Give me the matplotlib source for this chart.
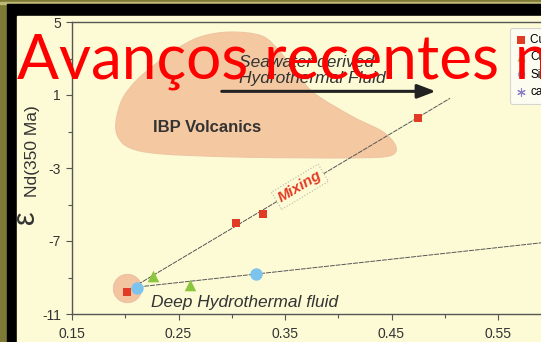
import numpy as np
import matplotlib.pyplot as plt
from matplotlib.path import Path
from matplotlib.patches import PathPatch, Rectangle

plt.rcParams['font.family'] = ['Liberation Sans', 'DejaVu Sans']

W, H = 541, 342
olive = '#7c7a34'
cream = '#fdfbd6'
peach = '#f4c8a0'

# Nd isotope data (x = 1/Nd-type ratio, y = eNd at 350 Ma)
cu_x = [0.2013, 0.304, 0.329, 0.4746]
cu_y = [-9.78, -6.0, -5.5, -0.27]
chl_x = [0.226, 0.2608]
chl_y = [-8.94, -9.39]
sid_x = [0.2107, 0.3228]
sid_y = [-9.58, -8.81]
cal_x = []
cal_y = []
series_labels = ['Cu-rich ore', 'Chlorite', 'Siderite', 'calcite']

# mixing lines between end members
upper_x = [0.207, 0.505]
upper_y = [-9.55, 0.82]
lower_x = [0.207, 0.65]
lower_y = [-9.55, -6.72]

deep_x = [0.2013]
deep_y = [-9.6]

# IBP volcanics field outline
ibp_x = [0.1913, 0.1969, 0.2092, 0.2251, 0.2467, 0.2702, 0.2984, 0.3284, 0.3453,
         0.3622, 0.3782, 0.4138, 0.4420, 0.4542, 0.4486, 0.4204, 0.3641, 0.2984,
         0.2326, 0.2045, 0.1932]
ibp_y = [-0.47, 0.73, 1.72, 2.54, 3.47, 4.18, 4.45, 4.23, 3.36,
         2.10, 1.06, -0.20, -1.02, -1.84, -2.33, -2.44, -2.44, -2.39,
         -2.22, -1.90, -1.29]

xticks = [0.15, 0.25, 0.35, 0.45, 0.55, 0.65]
xminor = [0.20, 0.30, 0.40, 0.50, 0.60]
yticks = [5, 1, -3, -7, -11]
yminor = [3, -1, -5, -9]


def smooth_closed(xs, ys):
    pts = np.column_stack([xs, ys])
    n = len(pts)
    verts = [pts[0]]
    codes = [Path.MOVETO]
    for i in range(n):
        p0, p1, p2, p3 = pts[i - 1], pts[i], pts[(i + 1) % n], pts[(i + 2) % n]
        verts += [p1 + (p2 - p0) / 6, p2 - (p3 - p1) / 6, p2]
        codes += [Path.CURVE4] * 3
    return Path(verts, codes)


fig = plt.figure(figsize=(W / 100, H / 100), dpi=100, facecolor=olive)

# slide frame
fig.patches.append(Rectangle((0, 1 - 3.5 / H), 1, 1.3 / H, transform=fig.transFigure,
                             color='#bdb873', zorder=-3))
fig.patches.append(Rectangle((7 / W, 0), 1, 1 - 3.8 / H, transform=fig.transFigure,
                             color='black', zorder=-2))
fig.patches.append(Rectangle((17 / W, 0), 1, 1 - 16 / H, transform=fig.transFigure,
                             color=cream, zorder=-1))

ax = fig.add_axes([72 / W, 28 / H, 532.5 / W, 292 / H])
ax.set_facecolor(cream)
ax.set_xlim(0.15, 0.65)
ax.set_ylim(-11, 5)

ax.add_patch(PathPatch(smooth_closed(ibp_x, ibp_y), fc=peach, ec='#efc5a2', lw=0.8, zorder=1))
ax.text(0.2258, -1.0, 'IBP Volcanics', fontsize=12, fontweight='bold', color='#333333',
        ha='left', va='baseline', zorder=2)

ax.text(0.3070, 1.66, 'Seawater derived\nHydrothermal Fluid', fontsize=12.5, style='italic',
        color='#333333', ha='left', va='baseline', linespacing=1.05, zorder=2)
ax.annotate('', xy=(0.4915, 1.2), xytext=(0.2906, 1.2),
            arrowprops=dict(arrowstyle='-|>,head_length=1.1,head_width=0.42', lw=2.2,
                            color='#222222', shrinkA=0, shrinkB=0), zorder=2)

ax.scatter(deep_x, deep_y, s=420, color='#f3c4a0', edgecolor='#eabca0', lw=0.6, zorder=2)

ax.plot(upper_x, upper_y, color='#555555', lw=0.7, ls=(0, (5, 1)), zorder=3)
ax.plot(lower_x, lower_y, color='#555555', lw=0.7, ls=(0, (5, 1)), zorder=3)

ax.scatter(sid_x, sid_y, s=80, marker='o', color='#7cc4ee', lw=0, zorder=4, label=series_labels[2])
ax.scatter(chl_x, chl_y, s=70, marker='^', color='#8cc63e', lw=0, zorder=4, label=series_labels[1])
ax.scatter(cu_x, cu_y, s=38, marker='s', color='#e23b25', lw=0, zorder=5, label=series_labels[0])
ax.scatter(cal_x, cal_y, s=30, marker=(6, 2, 0), color='#8a80c8', lw=0.8, zorder=5,
           label=series_labels[3])

ax.text(0.364, -4.03, 'Mixing', fontsize=11, fontweight='bold', style='italic',
        color='#e23b25', rotation=31, ha='center', va='center', rotation_mode='anchor',
        bbox=dict(boxstyle='square,pad=0.2', fc=cream, ec='#b8b8a8', ls=':', lw=0.8),
        zorder=6)

ax.text(0.2245, -10.62, 'Deep Hydrothermal fluid', fontsize=12.5, style='italic',
        color='#333333', ha='left', va='baseline', zorder=6)

ax.set_xticks(xticks)
ax.set_xticklabels([f'{v:.2f}' for v in xticks])
ax.set_xticks(xminor, minor=True)
ax.set_yticks(yticks)
ax.set_yticklabels([str(v) for v in yticks])
ax.set_yticks(yminor, minor=True)
ax.tick_params(which='both', direction='out', color='#555555', width=0.8)
ax.tick_params(which='major', length=4, labelsize=10, labelcolor='#333333')
ax.tick_params(which='minor', length=3)
ax.tick_params(axis='x', pad=5)
ax.tick_params(axis='y', pad=4)
for s in ax.spines.values():
    s.set_color('#555555')
    s.set_linewidth(1.0)

fig.text(33 / W, 1 - 151 / H, 'Nd(350 Ma)', rotation=90, fontsize=12.5, color='#333333',
         ha='center', va='center')
fig.text(26 / W, 1 - 217 / H, 'ε', rotation=90, fontsize=22, color='#333333',
         ha='center', va='center')

h, l = ax.get_legend_handles_labels()
h = [h[l.index(name)] for name in series_labels]
leg = ax.legend(h, series_labels, loc='upper left', bbox_to_anchor=(510 / W, 1 - 28 / H),
                bbox_transform=fig.transFigure, fontsize=8.5, frameon=True, fancybox=True,
                handlelength=0.8, handletextpad=0.4, borderpad=0.5, labelspacing=0.45,
                borderaxespad=0, scatterpoints=1)
for hd, sz in zip(leg.legend_handles, [26, 34, 30, 30]):
    hd.set_sizes([sz])
leg.get_frame().set_facecolor('#fdfdf8')
leg.get_frame().set_edgecolor('#cccccc')
leg.get_frame().set_linewidth(0.8)
leg.set_zorder(7)

fig.text(17 / W, 1 - 78 / H, 'Avanços recentes no', fontsize=44.7, color='#ff0000',
         family='Lato', ha='left', va='baseline', zorder=10)

fig.savefig('out.png', dpi=100, facecolor=olive)
